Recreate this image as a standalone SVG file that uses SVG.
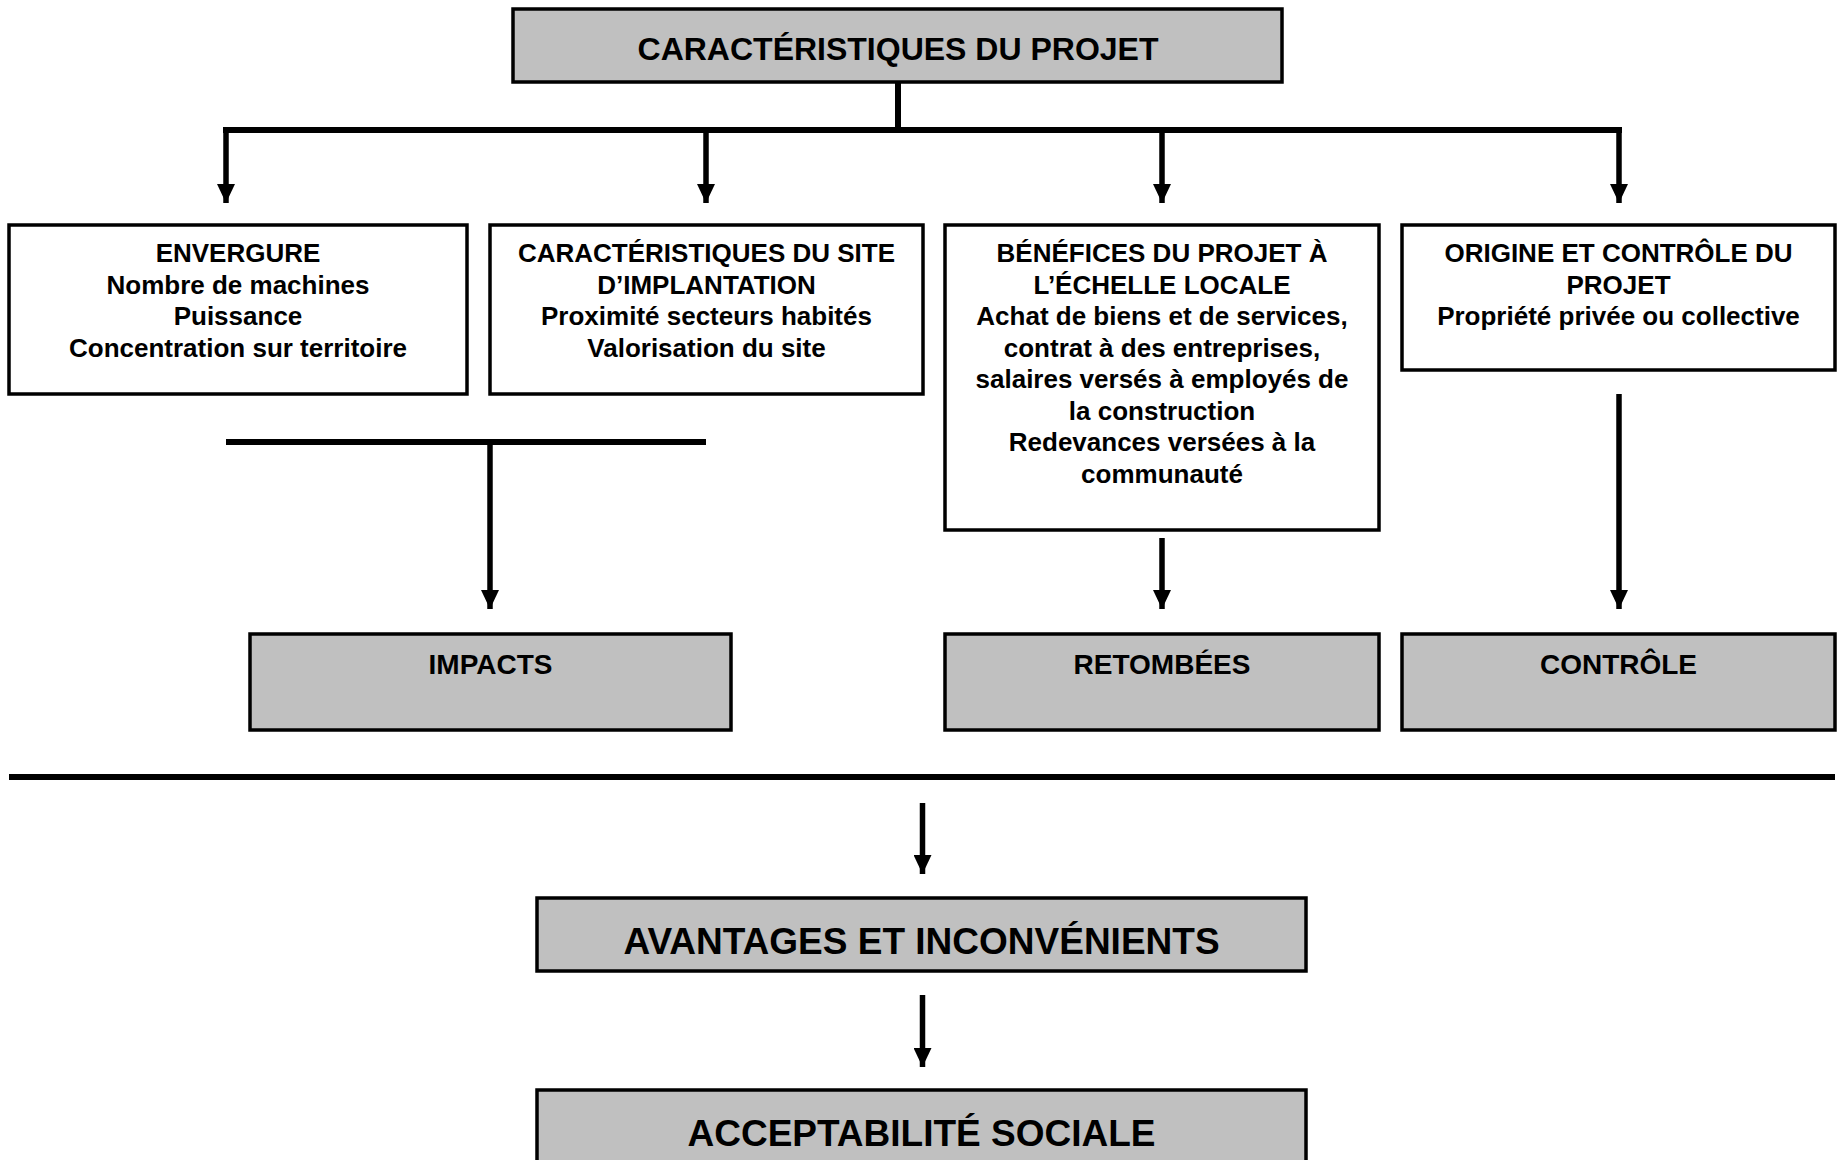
<svg xmlns="http://www.w3.org/2000/svg" width="1838" height="1160" viewBox="0 0 1838 1160">
  <style>
    .box { fill: #ffffff; stroke: #000000; stroke-width: 3.5; }
    .grey { fill: #c0c0c0; stroke: #000000; stroke-width: 3.5; }
    text { font-family: "Liberation Sans", Arial, sans-serif; font-weight: bold; fill: #000000; text-anchor: middle; }
    .t26 { font-size: 26px; }
    .t28 { font-size: 28px; }
    .t32 { font-size: 32px; }
    .t37 { font-size: 37px; }
    .bar { stroke: #000000; stroke-width: 6; fill: none; }
    .shaft { stroke: #000000; stroke-width: 5.5; fill: none; marker-end: url(#head); }
  </style>
  <defs>
    <marker id="head" markerUnits="userSpaceOnUse" markerWidth="19" markerHeight="18" refX="19" refY="9" orient="auto">
      <path d="M0,0 L19,9 L0,18 z" fill="#000000"/>
    </marker>
  </defs>
  <rect width="1838" height="1160" fill="#ffffff"/>

  <!-- connectors -->
  <g id="connectors">
    <line class="bar" x1="898" y1="82" x2="898" y2="130"/>
    <line class="bar" x1="223" y1="130" x2="1622" y2="130"/>
    <line class="shaft" x1="226" y1="130" x2="226" y2="203"/>
    <line class="shaft" x1="706" y1="130" x2="706" y2="203"/>
    <line class="shaft" x1="1162" y1="130" x2="1162" y2="203"/>
    <line class="shaft" x1="1619" y1="130" x2="1619" y2="203"/>

    <line class="bar" x1="226" y1="442" x2="706" y2="442"/>
    <line class="shaft" x1="490" y1="442" x2="490" y2="609"/>
    <line class="shaft" x1="1162" y1="538" x2="1162" y2="609"/>
    <line class="shaft" x1="1619" y1="394" x2="1619" y2="609"/>

    <line class="bar" x1="9" y1="777" x2="1835" y2="777"/>
    <line class="shaft" x1="922.5" y1="803" x2="922.5" y2="874"/>
    <line class="shaft" x1="922.5" y1="995" x2="922.5" y2="1067"/>
  </g>

  <!-- project characteristics -->
  <g id="projet">
    <rect class="grey" x="513" y="9" width="769" height="73"/>
    <text class="t32" x="898" y="60">CARACTÉRISTIQUES DU PROJET</text>
  </g>

  <g id="envergure">
    <rect class="box" x="9" y="225" width="458" height="169"/>
    <text class="t26" x="238" y="262">ENVERGURE</text>
    <text class="t26" x="238" y="293.5">Nombre de machines</text>
    <text class="t26" x="238" y="325">Puissance</text>
    <text class="t26" x="238" y="356.5">Concentration sur territoire</text>
  </g>

  <g id="site">
    <rect class="box" x="490" y="225" width="433" height="169"/>
    <text class="t26" x="706.5" y="262">CARACTÉRISTIQUES DU SITE</text>
    <text class="t26" x="706.5" y="293.5">D’IMPLANTATION</text>
    <text class="t26" x="706.5" y="325">Proximité secteurs habités</text>
    <text class="t26" x="706.5" y="356.5">Valorisation du site</text>
  </g>

  <g id="benefices">
    <rect class="box" x="945" y="225" width="434" height="305"/>
    <text class="t26" x="1162" y="262">BÉNÉFICES DU PROJET À</text>
    <text class="t26" x="1162" y="293.5">L’ÉCHELLE LOCALE</text>
    <text class="t26" x="1162" y="325">Achat de biens et de services,</text>
    <text class="t26" x="1162" y="356.5">contrat à des entreprises,</text>
    <text class="t26" x="1162" y="388">salaires versés à employés de</text>
    <text class="t26" x="1162" y="419.5">la construction</text>
    <text class="t26" x="1162" y="451">Redevances versées à la</text>
    <text class="t26" x="1162" y="482.5">communauté</text>
  </g>

  <g id="origine">
    <rect class="box" x="1402" y="225" width="433" height="145"/>
    <text class="t26" x="1618.5" y="262">ORIGINE ET CONTRÔLE DU</text>
    <text class="t26" x="1618.5" y="293.5">PROJET</text>
    <text class="t26" x="1618.5" y="325">Propriété privée ou collective</text>
  </g>

  <!-- outcome boxes -->
  <g id="impacts">
    <rect class="grey" x="250" y="634" width="481" height="96"/>
    <text class="t28" x="490.5" y="674">IMPACTS</text>
  </g>

  <g id="retombees">
    <rect class="grey" x="945" y="634" width="434" height="96"/>
    <text class="t28" x="1162" y="674">RETOMBÉES</text>
  </g>

  <g id="controle">
    <rect class="grey" x="1402" y="634" width="433" height="96"/>
    <text class="t28" x="1618.5" y="674">CONTRÔLE</text>
  </g>

  <g id="avantages">
    <rect class="grey" x="537" y="898" width="769" height="73"/>
    <text class="t37" x="921.5" y="954">AVANTAGES ET INCONVÉNIENTS</text>
  </g>

  <g id="acceptabilite">
    <rect class="grey" x="537" y="1090" width="769" height="90"/>
    <text class="t37" x="921.5" y="1146">ACCEPTABILITÉ SOCIALE</text>
  </g>
</svg>
